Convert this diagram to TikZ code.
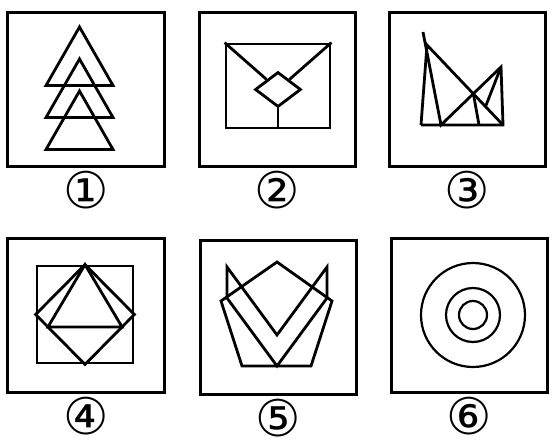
\documentclass[tikz,border=0pt]{standalone}
\usepackage{fontspec}
\newfontfamily\circfont{DejaVu Sans}
\usetikzlibrary{positioning,calc,shapes.geometric}
\tikzset{
  panel/.style={draw,line width=1.5mm,minimum width=78mm,minimum height=77mm,
    inner sep=0pt},
  figline/.style={line width=1.4mm,line join=miter},
  ring/.style={line width=1.1mm},
  numlabel/.style={font=\circfont\fontsize{72}{74}\selectfont,inner sep=0pt},
}

\begin{document}
\begin{tikzpicture}[x=0.5mm,y=-0.5mm]
  \useasboundingbox (0,0) rectangle (554,447);
  % frames
  \node[panel] (p1) at (86,89) {};
  \node[panel] (p2) at (277.5,89) {};
  \node[panel] (p3) at (467.5,89) {};
  \node[panel] (p4) at (86,315) {};
  \node[panel] (p5) at (278,317) {};
  \node[panel] (p6) at (469.5,315.5) {};
  \node[numlabel,below=1.5mm of p1] (n1) {①};
  \node[numlabel,below=1.5mm of p2] (n2) {②};
  \node[numlabel,below=1.5mm of p3] (n3) {③};
  \node[numlabel,below=1.5mm of p4] (n4) {④};
  \node[numlabel,below=1.5mm of p5] (n5) {⑤};
  \node[numlabel,below=1.5mm of p6] (n6) {⑥};
  % 1: three triangles
  \foreach \y in {27,59,91}
    \draw[figline] (79.5,\y) -- (113,\y+58.5) -- (46,\y+58.5) -- cycle;
  % 2: envelope
  \node[draw,figline,minimum width=52mm,minimum height=42mm,inner sep=0pt]
    (env) at (278,86) {};
  \node[draw,figline,diamond,minimum width=23mm,minimum height=17.5mm,
    inner sep=0pt] (seal) at (278,89.5) {};
  \draw[figline] (env.north west) -- (seal);
  \draw[figline] (env.north east) -- (seal);
  \draw[figline] (seal.south) -- (seal.south |- env.south);
  % 3: lines
  \coordinate (T) at (423,32);
  \coordinate (A) at (427,45);
  \coordinate (R) at (501,67);
  \coordinate (BL) at (421,125);
  \coordinate (B1) at (441,125);
  \coordinate (B2) at (479,125);
  \coordinate (BR) at (503,125);
  \coordinate (C) at (intersection of A--BR and B1--R);
  \coordinate (D) at ($(A)!0.77!(BR)$);
  \draw[figline] (BL) -- (BR) -- (R) -- (B1) -- (T);
  \draw[figline] (BL) -- (A) -- (BR);
  \draw[figline] (C) -- (B2);
  \draw[figline] (R) -- (D);
  % 4: square, diamond, triangle
  \node[draw,figline,minimum width=48mm,minimum height=48.5mm,inner sep=0pt]
    (sq4) at (85,314.5) {};
  \draw[figline] (sq4.north) -- (sq4.east) -- (sq4.south) -- (sq4.west) -- cycle;
  \draw[figline] (sq4.north) -- ($(sq4.east)!0.25!(sq4.south)$)
    -- ($(sq4.west)!0.25!(sq4.south)$) -- cycle;
  % 5: pentagon and chevron
  \draw[figline] (277,262) -- (332,301) -- (311,366) -- (242,366)
    -- (221,301) -- cycle;
  \draw[figline] (227,267) -- (277,335) -- (327,267) -- (327,298)
    -- (277,366) -- (227,298) -- cycle;
  % 6: rings
  \coordinate (o6) at (473,315);
  \draw[ring] (o6) circle[radius=26mm];
  \draw[ring] (o6) circle[radius=13.5mm];
  \draw[ring] (o6) circle[radius=7mm];
\end{tikzpicture}
\end{document}
